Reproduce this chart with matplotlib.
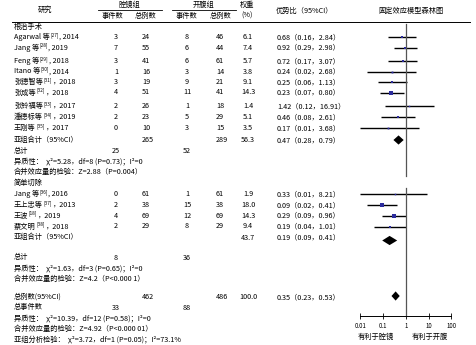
import matplotlib
matplotlib.use("Agg")
import matplotlib.pyplot as plt
import numpy as np

plt.rcParams['font.family'] = ['Noto Sans CJK SC', 'DejaVu Sans']

# ---------------- data ----------------
sub1_names = [("Agarwal 等", "[27]", ", 2014"), ("Jang 等", "[28]", ", 2019"), ("Feng 等", "[29]", ", 2018"),
              ("Itano 等", "[30]", ", 2014"), ("张德智等", "[31]", "，2018"), ("张成等", "[32]", "，2018"),
              ("张铃福等", "[33]", "，2017"), ("潘德标等", "[34]", "，2019"), ("王刚等", "[35]", "，2017")]
sub1_ev_l = [3, 7, 3, 1, 3, 4, 2, 2, 0]
sub1_n_l = [24, 55, 41, 16, 19, 51, 26, 23, 10]
sub1_ev_o = [8, 6, 6, 3, 9, 11, 1, 5, 3]
sub1_n_o = [46, 44, 61, 14, 21, 41, 18, 29, 15]
sub1_w = [6.1, 7.4, 5.7, 3.8, 9.1, 14.3, 1.4, 5.1, 3.5]
sub1_or = [0.68, 0.92, 0.72, 0.24, 0.25, 0.23, 1.42, 0.46, 0.17]
sub1_lo = [0.16, 0.29, 0.17, 0.02, 0.06, 0.07, 0.12, 0.08, 0.01]
sub1_hi = [2.84, 2.98, 3.07, 2.68, 1.13, 0.80, 16.91, 2.61, 3.68]
sub1_tot = dict(n_l=265, n_o=289, ev_l=25, ev_o=52, w=56.3, orr=0.47, lo=0.28, hi=0.79)

sub2_names = [("Jang 等", "[36]", ", 2016"), ("王上忠等", "[37]", "，2013"), ("王波", "[18]", "，2019"),
              ("蔡文明", "[38]", "，2018")]
sub2_ev_l = [0, 2, 4, 2]
sub2_n_l = [61, 38, 69, 29]
sub2_ev_o = [1, 15, 12, 8]
sub2_n_o = [61, 38, 69, 29]
sub2_w = [1.9, 18.0, 14.3, 9.4]
sub2_or = [0.33, 0.09, 0.29, 0.19]
sub2_lo = [0.01, 0.02, 0.09, 0.04]
sub2_hi = [8.21, 0.41, 0.96, 1.01]
sub2_tot = dict(ev_l=8, ev_o=36, w=43.7, orr=0.19, lo=0.09, hi=0.41)

all_tot = dict(n_l=462, n_o=486, ev_l=33, ev_o=88, w=100.0, orr=0.35, lo=0.23, hi=0.53)

het1 = ["异质性：  χ²=5.28，df=8 (P=0.73)；I²=0", "合并效应量的检验：Z=2.88（P=0.004）"]
het2 = ["异质性：  χ²=1.63，df=3 (P=0.65)；I²=0", "合并效应量的检验：Z=4.2（P<0.000 1）"]
het_all = ["异质性：  χ²=10.39，df=12 (P=0.58)；I²=0", "合并效应量的检验：Z=4.92（P<0.000 01）",
           "亚组分析检验：  χ²=3.72，df=1 (P=0.05)；I²=73.1%"]

ticks = [0.01, 0.1, 1, 10, 100]
tick_labels = ["0.01", "0.1", "1", "10", "100"]

# ---------------- layout ----------------
W, H = 477, 345
fig = plt.figure(figsize=(W / 100, H / 100), dpi=100)
ax0 = fig.add_axes([0, 0, 1, 1])
ax0.set_xlim(0, W)
ax0.set_ylim(H, 0)
ax0.axis('off')
renderer = fig.canvas.get_renderer()

FS = 5.2
X_NAME = 14
X_C1, X_C2, X_C3, X_C4 = 116, 146, 187, 220
X_S2, X_S4 = 148, 222
X_W = 248
X_OR = 277
X_ONE = 406
DEC = 22.75


def t(x, y, s, ha='left', fs=FS, **kw):
    return ax0.text(x, y, s, ha=ha, va='center', fontsize=fs, color='black', **kw)


def name_text(x, y, parts):
    base, ref, tail = parts
    a = t(x, y, base)
    x2 = x + a.get_window_extent(renderer).width
    b = t(x2 + 0.3, y - 2.2, ref, fs=3.4)
    x3 = x2 + 0.6 + b.get_window_extent(renderer).width
    t(x3, y, tail)


def or_text(o, l, h):
    return f"{o:.2f}（{l:.2f}，{h:.2f}）"


# header
t(45, 10, "研究", ha='center')
t(130, 4.5, "腔镜组", ha='center')
t(204, 4.5, "开腹组", ha='center')
ax0.plot([98, 162], [10, 10], color='black', lw=0.6)
ax0.plot([172, 236], [10, 10], color='black', lw=0.6)
t(113, 16, "事件数", ha='center')
t(146, 16, "总例数", ha='center')
t(187, 16, "事件数", ha='center')
t(221, 16, "总例数", ha='center')
t(247, 5, "权重", ha='center')
t(247, 16, "(%)", ha='center')
t(304, 10.5, "优势比（95%CI）", ha='center')
t(411, 10.5, "固定效应模型森林图", ha='center')
ax0.plot([12, 470], [22, 22], color='black', lw=0.7)

# forest axes
ax1 = fig.add_axes([340 / W, 0, (W - 340) / W, 1])
ax1.set_xscale('log')
ax1.set_xlim(10 ** ((340 - X_ONE) / DEC), 10 ** ((W - X_ONE) / DEC))
ax1.set_ylim(H, 0)
ax1.patch.set_visible(False)
for s in ['left', 'top', 'right']:
    ax1.spines[s].set_visible(False)
ax1.spines['bottom'].set_position(('data', 316))
ax1.spines['bottom'].set_bounds(ticks[0], ticks[-1])
ax1.spines['bottom'].set_linewidth(0.7)
ax1.set_xticks(ticks)
ax1.set_xticklabels(tick_labels)
ax1.xaxis.set_minor_locator(matplotlib.ticker.NullLocator())
ax1.tick_params(axis='x', direction='inout', length=5, width=0.6, labelsize=4.4, pad=1.5)
ax1.set_yticks([])

MARK = '#2b2b9c'


def study_rows(names, evl, nl, evo, no, w, orr, lo, hi, ys):
    for i, y in enumerate(ys):
        name_text(X_NAME, y, names[i])
        t(X_C1, y, str(evl[i]), ha='center')
        t(X_C2, y, str(nl[i]), ha='center')
        t(X_C3, y, str(evo[i]), ha='center')
        t(X_C4, y, str(no[i]), ha='center')
        t(X_W, y, f"{w[i]:.1f}", ha='center')
        t(X_OR, y, or_text(orr[i], lo[i], hi[i]))
        ax1.plot([lo[i], hi[i]], [y, y], color='black', lw=1.0, solid_capstyle='butt')
        ax1.plot([orr[i]], [y], marker='s', color=MARK, ms=0.9 + 0.12 * w[i], mew=0)


def diamond(orr, lo, hi, y, h=4.6):
    ax1.fill([lo, orr, hi, orr], [y, y - h, y, y + h], color='black', lw=0)


# subgroup 1
y1 = [37, 47.5, 61, 71.5, 82, 92.5, 106, 117, 128]
t(X_NAME, 27, "根治手术")
study_rows(sub1_names, sub1_ev_l, sub1_n_l, sub1_ev_o, sub1_n_o, sub1_w, sub1_or, sub1_lo, sub1_hi, y1)
y = 140
t(X_NAME, y, "亚组合计（95%CI）")
t(X_S2, y, str(sub1_tot['n_l']), ha='center')
t(X_S4, y, str(sub1_tot['n_o']), ha='center')
t(X_W, y, f"{sub1_tot['w']:.1f}", ha='center')
t(X_OR, y, or_text(sub1_tot['orr'], sub1_tot['lo'], sub1_tot['hi']))
diamond(sub1_tot['orr'], sub1_tot['lo'], sub1_tot['hi'], y)
t(X_NAME, 151, "总计")
t(X_C1, 151, str(sub1_tot['ev_l']), ha='center')
t(X_C3, 151, str(sub1_tot['ev_o']), ha='center')
t(X_NAME, 161.5, het1[0])
t(X_NAME, 172, het1[1])
ax1.plot([1, 1], [24, 176], color='#555555', lw=0.9)

# subgroup 2
t(X_NAME, 183, "简单切除")
y2 = [194, 205, 215.5, 226.5]
study_rows(sub2_names, sub2_ev_l, sub2_n_l, sub2_ev_o, sub2_n_o, sub2_w, sub2_or, sub2_lo, sub2_hi, y2)
y = 237.5
t(X_NAME, y, "亚组合计（95%CI）")
t(X_W, y, f"{sub2_tot['w']:.1f}", ha='center')
t(X_OR, y, or_text(sub2_tot['orr'], sub2_tot['lo'], sub2_tot['hi']))
diamond(sub2_tot['orr'], sub2_tot['lo'], sub2_tot['hi'], y + 3)
t(X_NAME, 257.5, "总计")
t(X_C1, 257.5, str(sub2_tot['ev_l']), ha='center')
t(X_C3, 257.5, str(sub2_tot['ev_o']), ha='center')
t(X_NAME, 268, het2[0])
t(X_NAME, 278.5, het2[1])
ax1.plot([1, 1], [188, 316], color='#555555', lw=0.9)

# overall
y = 297
t(X_NAME, y, "总例数(95%CI)")
t(X_S2, y, str(all_tot['n_l']), ha='center')
t(X_S4, y, str(all_tot['n_o']), ha='center')
t(X_W, y, f"{all_tot['w']:.1f}", ha='center')
t(X_OR, y, or_text(all_tot['orr'], all_tot['lo'], all_tot['hi']))
diamond(all_tot['orr'], all_tot['lo'], all_tot['hi'], y - 1)
t(X_NAME, 307.5, "总事件数")
t(X_C1, 307.5, str(all_tot['ev_l']), ha='center')
t(X_C3, 307.5, str(all_tot['ev_o']), ha='center')
t(X_NAME, 318, het_all[0])
t(X_NAME, 328.5, het_all[1])
t(X_NAME, 339, het_all[2])

t(376, 337, "有利于腔镜", ha='center')
t(430, 337, "有利于开腹", ha='center')

fig.savefig("out.png", dpi=100, facecolor='white')
